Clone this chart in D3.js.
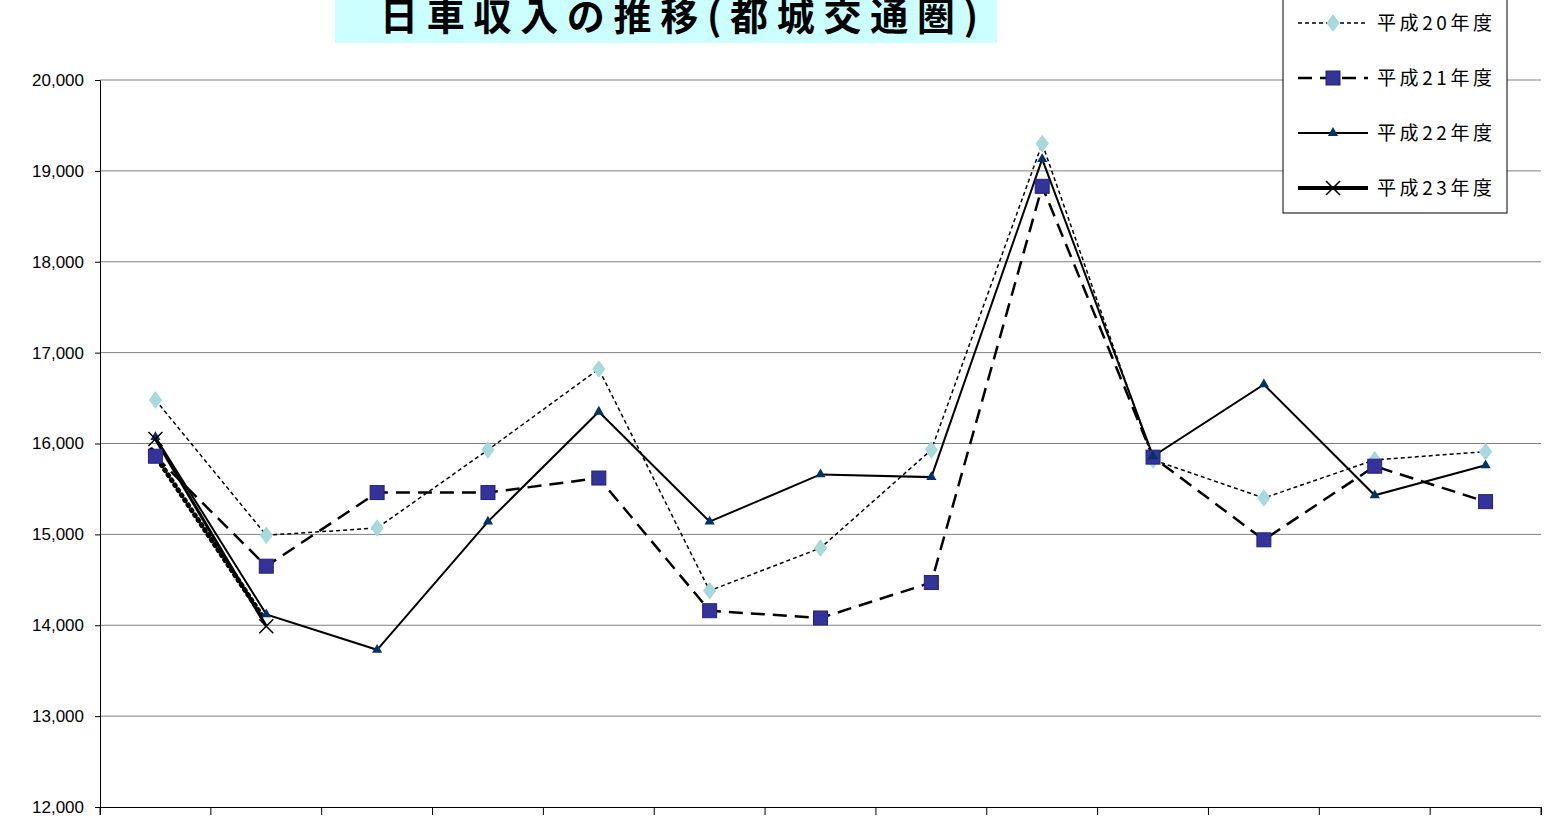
<!DOCTYPE html>
<html><head><meta charset="utf-8">
<script src="https://cdn.jsdelivr.net/npm/d3@7"></script>
<style>body{margin:0;background:#fff;font-family:"Noto Sans CJK JP",sans-serif}</style>
</head><body><svg id="c" width="1550" height="822"></svg>
<script>
var months = ["1","2","3","4","5","6","7","8","9","10","11","12","13"];
var h20 = [16480,14990,15070,15930,16820,14380,14850,15930,19300,15820,15400,15820,15910];
var h21 = [15860,14650,15460,15460,15620,14160,14080,14470,18830,15850,14940,15750,15360];
var h22 = [16070,14120,13730,15140,16350,15140,15660,15630,19130,15860,16650,15430,15760];
var h23 = [16050,13990];
var h23dot = [15930,14100];
var yTicks = [12000,13000,14000,15000,16000,17000,18000,19000,20000];
var names = ["平成20年度","平成21年度","平成22年度","平成23年度"];

var svg = d3.select("#c");
var x = d3.scaleBand().domain(months).range([100,1541]);
var y = d3.scaleLinear().domain([12000,20000]).range([807,80]);
var cx = function(d,i){ return x(months[i]) + x.bandwidth()/2; };

// grid
svg.selectAll(".g").data(yTicks.slice(1)).enter().append("line")
	.attr("x1",100).attr("x2",1541).attr("y1",d=>y(d)).attr("y2",d=>y(d))
	.attr("stroke","#808080").attr("stroke-width",1);
var ya = svg.append("g").attr("transform","translate(100,0)")
	.call(d3.axisLeft(y).tickValues(yTicks).tickFormat(d3.format(",")).tickSize(5));
ya.selectAll("text").attr("font-size",17).attr("font-family","Liberation Sans,Arial").attr("dx",-8);
ya.select(".domain").attr("stroke","#000");
var xa = svg.append("g").attr("transform","translate(0,807)")
	.call(d3.axisBottom(x).tickSize(8).tickFormat(""));
xa.selectAll(".tick").remove();
x.domain().concat(["end"]).forEach(function(m,i){
	var xx = 100 + i*x.bandwidth();
	svg.append("line").attr("x1",xx).attr("x2",xx).attr("y1",807).attr("y2",815).attr("stroke","#000");
});

var line = d3.line().x(cx).y(d=>y(d));
function path(data,dash,w,dx){
	return svg.append("path").attr("d",line(data)).attr("fill","none").attr("stroke","#000")
		.attr("stroke-width",w).attr("stroke-dasharray",dash)
		.attr("transform","translate("+(dx||0)+",0)");
}
path(h20,"4,3",1.5);
path(h21,"14,8",2.5);
path(h22,null,2);
path(h23dot,"1,5",5,-4).attr("stroke-linecap","round");
path(h23,null,3);

function diamond(g,px,py){ g.append("path").attr("d",d3.symbol(d3.symbolDiamond,70)()).attr("transform","translate("+px+","+py+") scale(1.3,1)").attr("fill","#a8dadc").attr("stroke","#9fd8dc"); }
function square(g,px,py){ g.append("rect").attr("x",px-7).attr("y",py-7).attr("width",14).attr("height",14).attr("fill","#333399").attr("stroke","#22227a"); }
function tri(g,px,py){ g.append("path").attr("d",d3.symbol(d3.symbolTriangle,45)()).attr("transform","translate("+px+","+py+")").attr("fill","#003366"); }
function cross(g,px,py){ g.append("path").attr("d","M-7,-7L7,7M-7,7L7,-7").attr("transform","translate("+px+","+py+")").attr("stroke","#000").attr("stroke-width",1.5); }

h20.forEach((d,i)=>diamond(svg,cx(d,i),y(d)));
h21.forEach((d,i)=>square(svg,cx(d,i),y(d)));
h22.forEach((d,i)=>tri(svg,cx(d,i),y(d)));
h23.forEach((d,i)=>cross(svg,cx(d,i),y(d)));

// title
svg.append("rect").attr("x",335).attr("y",-10).attr("width",662).attr("height",53).attr("fill","#ccffff");
svg.append("text").attr("x",380).attr("y",30).attr("font-size",38).attr("textLength",598)
	.attr("lengthAdjust","spacing").attr("font-weight","bold").text("日車収入の推移(都城交通圏)");

// legend
var lg = svg.append("g");
lg.append("rect").attr("x",1283).attr("y",-2).attr("width",224).attr("height",215).attr("fill","#fff").attr("stroke","#000");
var styles = [["4,3",1.5,diamond],["14,8",2.5,square],[null,2,tri],[null,4,cross]];
names.forEach(function(n,i){
	var ly = 23 + i*55;
	lg.append("line").attr("x1",1298).attr("x2",1368).attr("y1",ly).attr("y2",ly)
		.attr("stroke","#000").attr("stroke-width",styles[i][1]).attr("stroke-dasharray",styles[i][0]);
	styles[i][2](lg,1333,ly);
	lg.append("text").attr("x",1377).attr("y",ly+7).attr("font-size",19)
		.attr("textLength",115).attr("lengthAdjust","spacing").text(n);
});
</script></body></html>
